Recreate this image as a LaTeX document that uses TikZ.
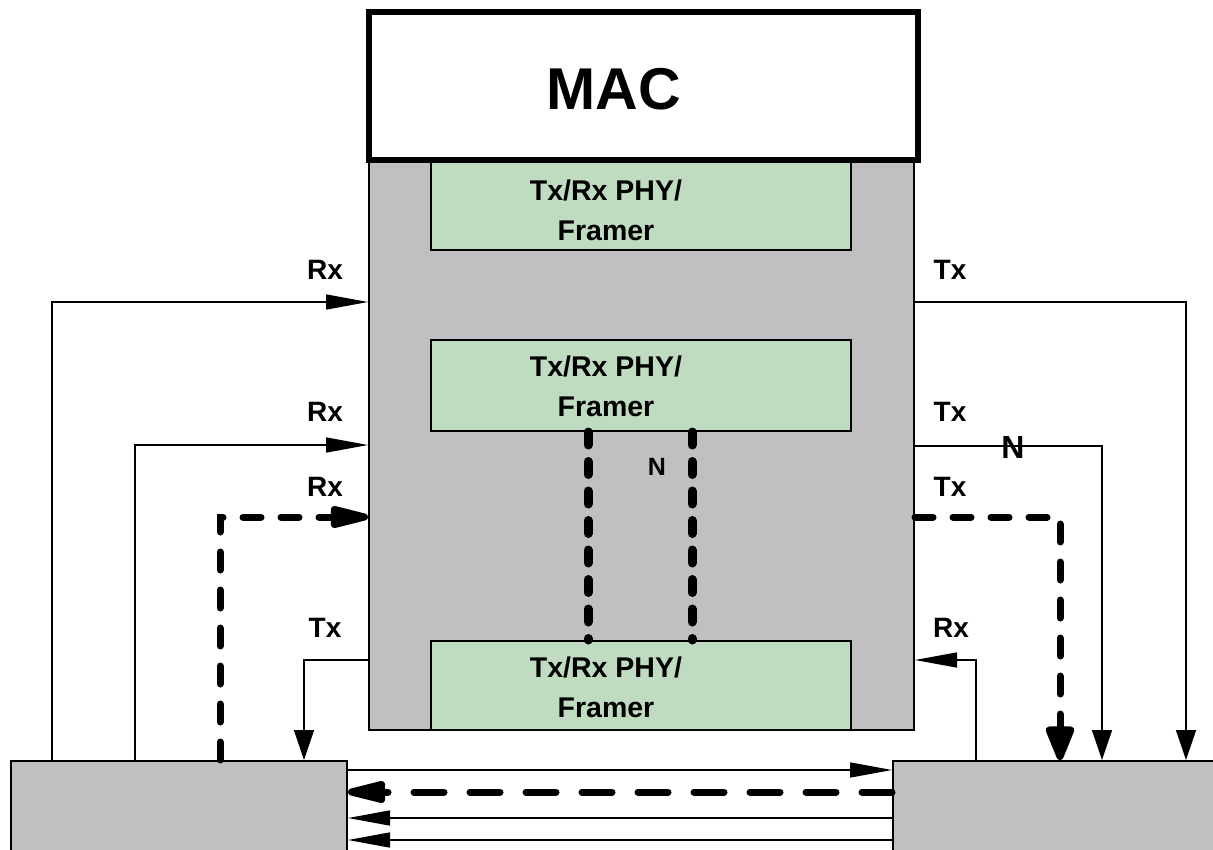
\documentclass[tikz,border=0pt]{standalone}
\usepackage{fontspec}
\setmainfont{Liberation Sans}
\usetikzlibrary{arrows.meta}
\definecolor{boxgray}{RGB}{192,192,192}
\definecolor{phygreen}{RGB}{192,220,192}
\begin{document}
\begin{tikzpicture}[x=1pt,y=-1pt,
  blk/.style={draw=black,line width=2pt,inner sep=0pt,anchor=north west},
  graybox/.style={blk,fill=boxgray},
  phybox/.style={blk,fill=phygreen,minimum width=420pt},
  lbl/.style={font=\fontsize{28}{30}\selectfont\bfseries,inner sep=0pt},
  phytext/.style={font=\fontsize{28.5}{40}\selectfont\bfseries,align=center,inner sep=0pt},
  conn/.style={line width=1.5pt},
  thick dash/.style={line width=7pt,line cap=round,dash pattern=on 18pt off 20pt},
  nlink/.style={line width=9pt,line cap=round,dash pattern=on 13pt off 16.5pt},
  tiph/.style={-{Triangle[length=42pt,width=15pt]}},
  tipv/.style={-{Triangle[length=30pt,width=20pt]}},
  bigtiph/.style={-{Triangle[length=50pt,width=22pt,round]}},
  bigtipv/.style={-{Triangle[length=40pt,width=30pt,round]}}
]
\useasboundingbox (0,0) rectangle (1213,849);
\clip (0,0) rectangle (1213,849);
\fill[white] (0,0) rectangle (1213,849);

% main gray box and PHY boxes
\node[graybox,minimum width=545pt,minimum height=579pt] (main) at (368,150) {};
\node[phybox,minimum height=99pt] (g1) at (430,150) {};
\node[phybox,minimum height=91pt] (g2) at (430,339) {};
\node[phybox,minimum height=89pt] (g3) at (430,640) {};
\node[phytext] (t1) at (606,210) {Tx/Rx PHY/\\Framer};
\node[phytext] (t2) at (606,386) {Tx/Rx PHY/\\Framer};
\node[phytext] (t3) at (606,687) {Tx/Rx PHY/\\Framer};

% MAC
\node[blk,fill=white,line width=5.5pt,minimum width=549pt,minimum height=148pt] (mac) at (366,9) {};
\node[font=\fontsize{59}{60}\selectfont\bfseries,inner sep=0pt] (mactext) at (614,89) {MAC};

% bottom boxes
\node[graybox,minimum width=336pt,minimum height=110pt] (lb) at (10,760) {};
\node[graybox,minimum width=340pt,minimum height=110pt] (rb) at (892,760) {};

% left side connectors
\draw[conn,tiph] (lb.north -| 52,0) |- (main.west |- 0,302);
\draw[conn,tiph] (lb.north -| 135,0) |- (main.west |- 0,445);
\draw[thick dash,bigtiph] (lb.north -| 220,0) |- (main.west |- 0,517);
\draw[conn,tipv] (main.west |- 0,660) -| (lb.north -| 304,0);

% right side connectors
\draw[conn,tipv] (main.east |- 0,302) -| (rb.north -| 1186,0);
\draw[conn,tipv] (main.east |- 0,446) -| (rb.north -| 1102,0);
\draw[thick dash,bigtipv] (main.east |- 0,517) -| (rb.north -| 1060,0);
\draw[conn,tiph] (rb.north -| 976,0) |- (main.east |- 0,660);

% bottom connectors between boxes
\draw[conn,tiph] (lb.east |- 0,770) -- (rb.west |- 0,770);
\draw[line width=7pt,line cap=round,dash pattern=on 30pt off 26pt,bigtiph] (rb.west |- 0,792) -- (lb.east |- 0,792);
\draw[conn,tiph] (rb.west |- 0,818) -- (lb.east |- 0,818);
\draw[conn,tiph] (rb.west |- 0,840) -- (lb.east |- 0,840);

% N links between PHY boxes
\draw[nlink] (g2.south -| 588,0) -- (g3.north -| 588,0);
\draw[nlink] (g2.south -| 692,0) -- (g3.north -| 692,0);

% labels
\node[lbl] (rx1) at (325,270) {Rx};
\node[lbl] (rx2) at (325,412) {Rx};
\node[lbl] (rx3) at (325,487) {Rx};
\node[lbl] (tx4) at (325,628) {Tx};
\node[lbl] (tx1) at (950,270) {Tx};
\node[lbl] (tx2) at (950,412) {Tx};
\node[lbl] (tx3) at (950,487) {Tx};
\node[lbl] (rx4) at (951,628) {Rx};
\node[lbl,font=\fontsize{32}{34}\selectfont\bfseries] (nr) at (1013,447) {N};
\node[lbl,font=\fontsize{25}{28}\selectfont\bfseries] (nm) at (657,467) {N};
\end{tikzpicture}
\end{document}
